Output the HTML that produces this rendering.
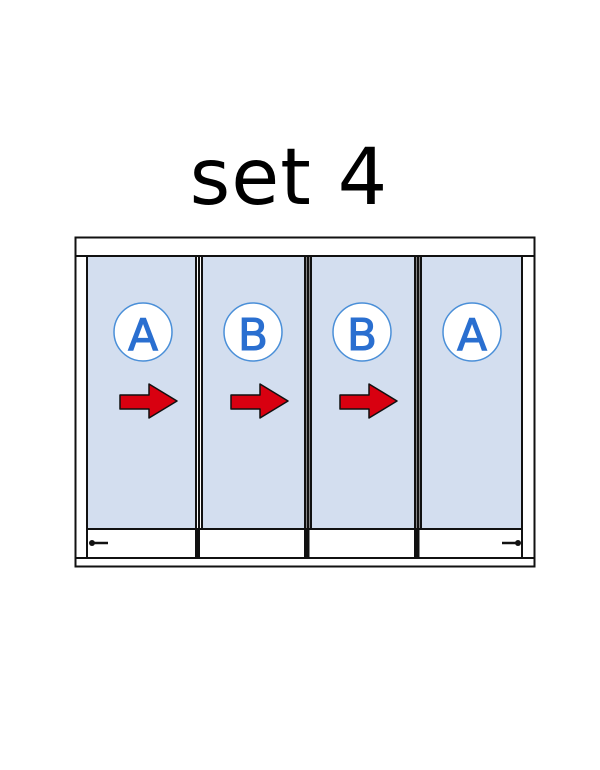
<!DOCTYPE html>
<html><head><style>
html,body{margin:0;padding:0;background:#fff;}
svg{display:block;}
</style></head><body>
<svg width="600" height="770" viewBox="0 0 600 770" xmlns="http://www.w3.org/2000/svg">
<text x="289" y="204" text-anchor="middle" font-family="DejaVu Sans, Liberation Sans, sans-serif" font-size="78" letter-spacing="1" fill="#000">set 4</text>
<!-- outer frame -->
<rect x="75.5" y="237.5" width="459" height="329" fill="#fff" stroke="#111" stroke-width="2"/>
<line x1="75" y1="256" x2="535" y2="256" stroke="#111" stroke-width="2"/>
<line x1="75" y1="558" x2="535" y2="558" stroke="#111" stroke-width="2"/>
<!-- panels -->
<g stroke="#111" stroke-width="2">
<rect x="87" y="256" width="109" height="273" fill="#d3deef"/>
<rect x="202" y="256" width="103" height="273" fill="#d3deef"/>
<rect x="311" y="256" width="104" height="273" fill="#d3deef"/>
<rect x="421" y="256" width="101" height="273" fill="#d3deef"/>
<rect x="87" y="529" width="109" height="29" fill="#fff"/>
<rect x="198" y="529" width="107" height="29" fill="#fff"/>
<rect x="307" y="529" width="108" height="29" fill="#fff"/>
<rect x="417" y="529" width="105" height="29" fill="#fff"/>
<line x1="199" y1="256" x2="199" y2="558"/>
<line x1="308" y1="256" x2="308" y2="558" stroke-width="3"/>
<line x1="418" y1="256" x2="418" y2="558" stroke-width="3"/>
</g>
<!-- handles -->
<circle cx="92" cy="543" r="3" fill="#111"/><line x1="92" y1="543" x2="108" y2="543" stroke="#111" stroke-width="2.5"/>
<circle cx="518" cy="543" r="3" fill="#111"/><line x1="502" y1="543" x2="518" y2="543" stroke="#111" stroke-width="2.5"/>
<!-- circles -->
<g fill="#fff" stroke="#4a8fd8" stroke-width="1.5">
<circle cx="143" cy="332" r="29"/>
<circle cx="253" cy="332" r="29"/>
<circle cx="362" cy="332" r="29"/>
<circle cx="472" cy="332" r="29"/>
</g>
<g font-family="DejaVu Sans, Liberation Sans, sans-serif" font-size="44" fill="#2a6fd0" stroke="#2a6fd0" stroke-width="1" text-anchor="middle">
<text x="143" y="350">A</text>
<text x="253" y="350">B</text>
<text x="362" y="350">B</text>
<text x="472" y="350">A</text>
</g>
<!-- arrows -->
<g fill="#d80010" stroke="#111" stroke-width="1.5" stroke-linejoin="round">
<polygon points="120,395 149,395 149,384 177,401 149,418 149,409 120,409"/>
<polygon points="231,395 260,395 260,384 288,401 260,418 260,409 231,409"/>
<polygon points="340,395 369,395 369,384 397,401 369,418 369,409 340,409"/>
</g>
</svg>
</body></html>
